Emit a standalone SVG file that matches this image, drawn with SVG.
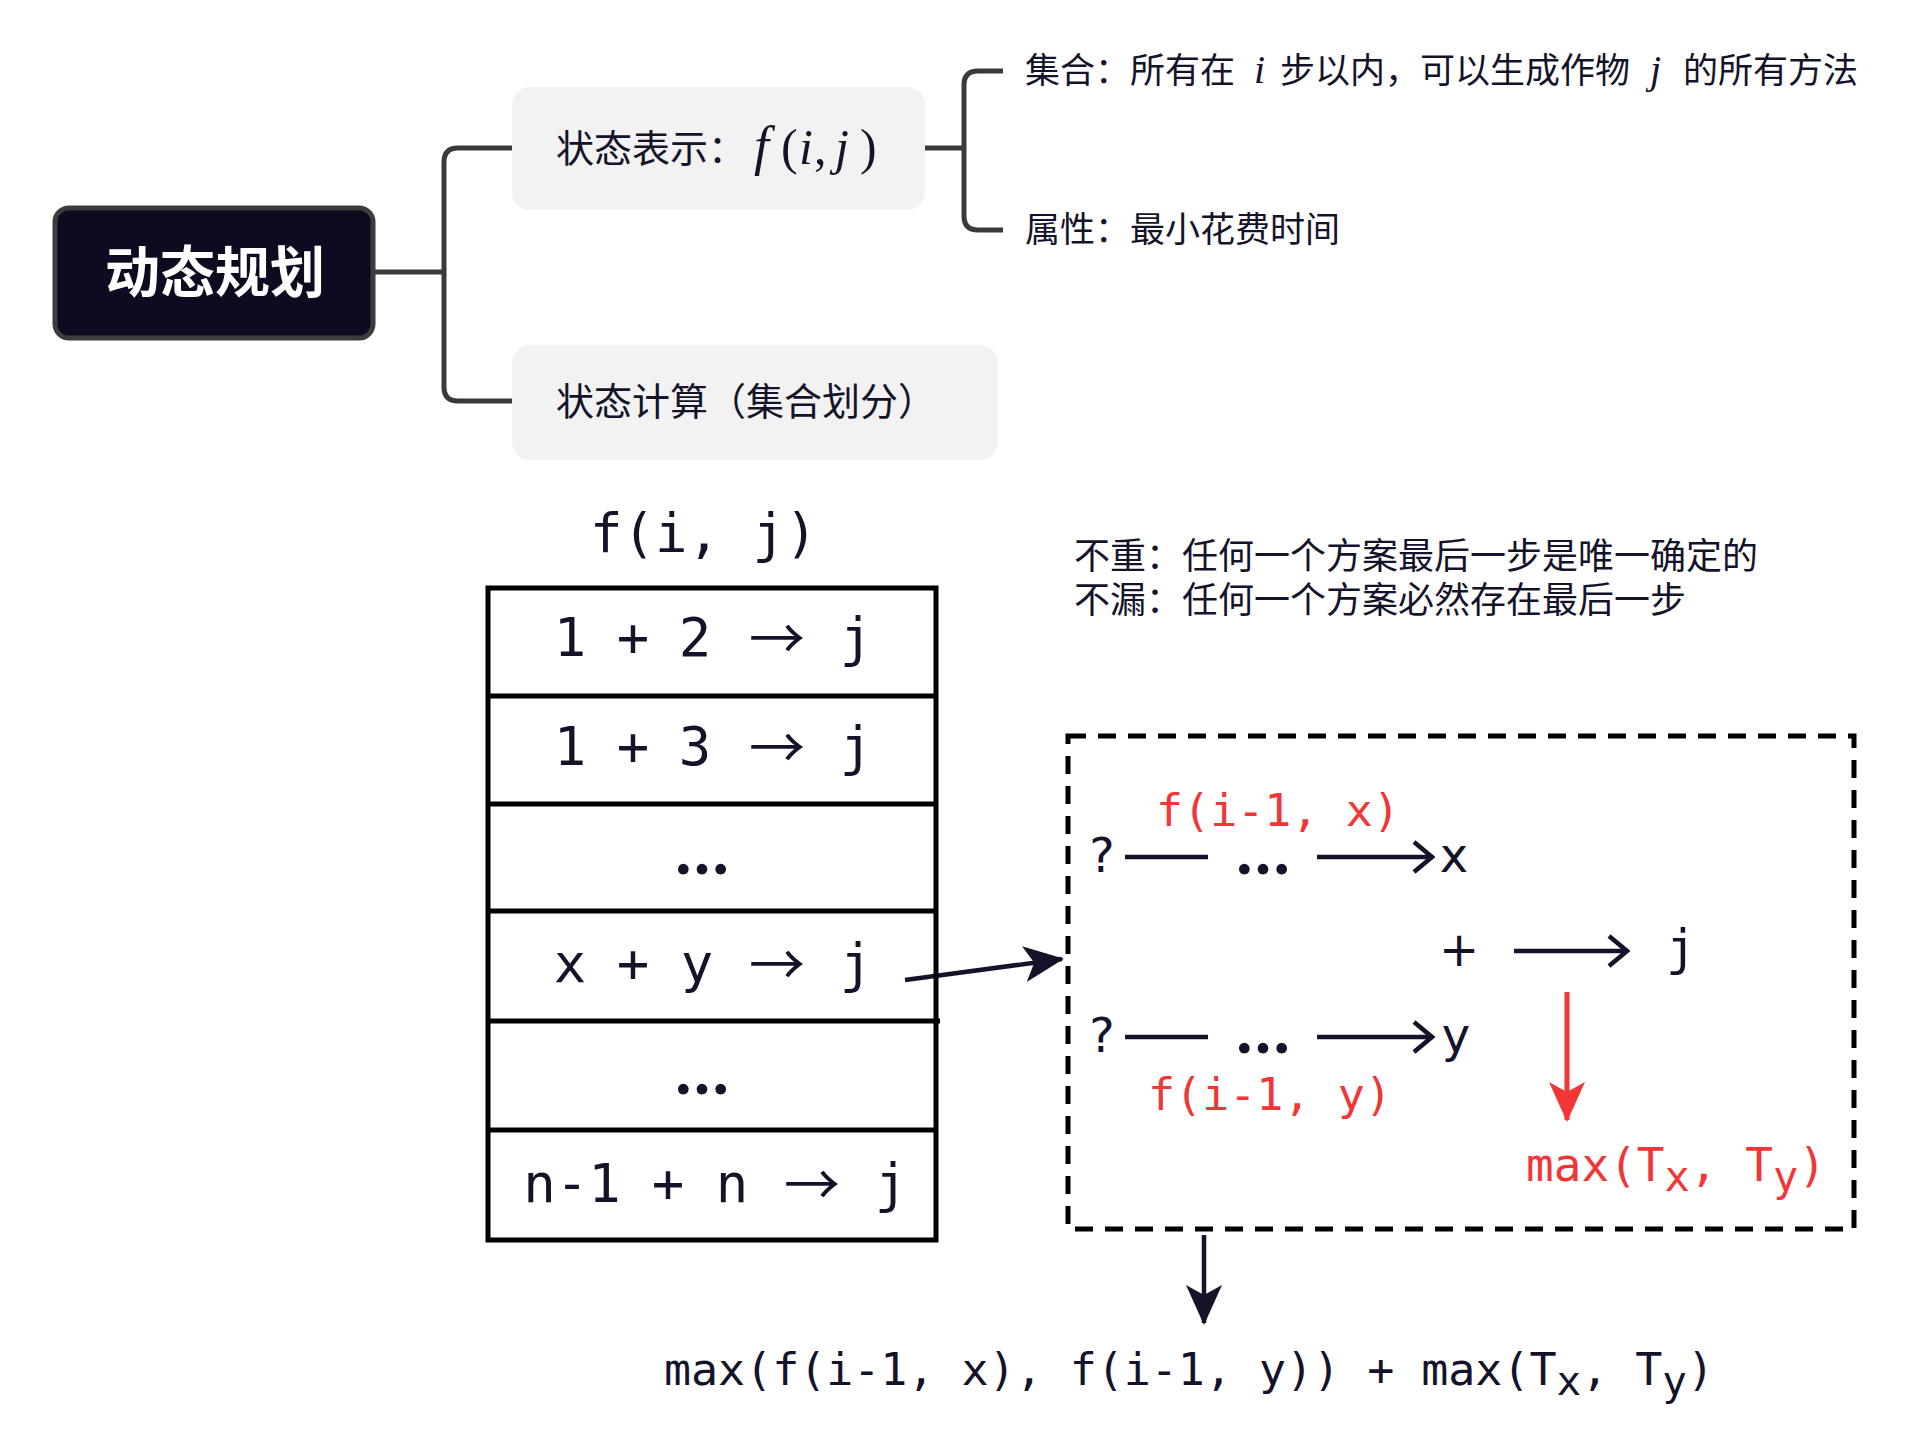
<svg xmlns="http://www.w3.org/2000/svg" width="1924" height="1450" viewBox="0 0 1924 1450">
<defs>
<style>
.cjk{font-family:"Noto Sans CJK SC","Noto Sans",sans-serif;fill:#15132a}
.mono{font-family:"DejaVu Sans Mono","Liberation Mono",monospace;fill:#15132a}
.red{fill:#f23535}
.math{font-family:"Liberation Serif","DejaVu Serif",serif;fill:#15132a}
.it{font-style:italic}
.sym{font-family:"DejaVu Sans","Liberation Sans",sans-serif;fill:#15132a}
.arr{font-family:"Noto Sans CJK SC","DejaVu Sans",sans-serif;fill:#15132a;font-size:56px;text-anchor:middle}
.dots{font-family:Lato,"DejaVu Sans",sans-serif;fill:#15132a;font-size:70px;font-weight:bold;text-anchor:middle}
.tbl{font-size:54px;text-anchor:middle}
.conn{fill:none;stroke:#3a3a3a;stroke-width:5;stroke-linecap:butt}
.line{fill:none;stroke:#15132a;stroke-width:4.5}
.grid{fill:none;stroke:#000;stroke-width:5}
</style>
<marker id="stealth" viewBox="0 0 40 36" refX="38" refY="18" markerWidth="40" markerHeight="36" markerUnits="userSpaceOnUse" orient="auto">
<path d="M0,0 L40,18 L0,36 L10,18 z" fill="#15132a"/>
</marker>
<marker id="stealthRed" viewBox="0 0 40 36" refX="38" refY="18" markerWidth="40" markerHeight="40" markerUnits="userSpaceOnUse" orient="auto">
<path d="M0,0 L40,18 L0,36 L10,18 z" fill="#f23535"/>
</marker>
<marker id="chev" viewBox="0 0 24 34" refX="21" refY="17" markerWidth="24" markerHeight="34" markerUnits="userSpaceOnUse" orient="auto">
<path d="M3,2 L21,17 L3,32" fill="none" stroke="#15132a" stroke-width="4.5"/>
</marker>
</defs>
<rect width="1924" height="1450" fill="#ffffff"/>

<g id="connectors">
<path class="conn" d="M375,272 H444"/>
<path class="conn" d="M512,148 H458 Q444,148 444,162 V387 Q444,401 458,401 H512"/>
<path class="conn" d="M925,148 H964"/>
<path class="conn" d="M1003,71 H978 Q964,71 964,85 V216 Q964,230 978,230 H1003"/>
<path class="line" d="M905,980 L1062,959" stroke-width="5" marker-end="url(#stealth)"/>
<path class="line" d="M1204,1235 V1323" stroke-width="5" marker-end="url(#stealth)"/>
<path d="M1567,992 V1120" fill="none" stroke="#f23535" stroke-width="5" marker-end="url(#stealthRed)"/>
</g>

<g id="root">
<rect x="55" y="208" width="318" height="130" rx="14" fill="#0d0b20" stroke="#3c3c3c" stroke-width="5"/>
<text x="215" y="292" class="cjk" font-size="55" font-weight="bold" text-anchor="middle" style="fill:#ffffff">动态规划</text>
</g>

<g id="node-state-repr">
<rect x="512" y="87" width="413" height="123" rx="18" fill="#f2f2f2"/>
<text x="556" y="162" class="cjk" font-size="38">状态表示：</text>
<text y="164" class="math" font-size="50"><tspan x="754" class="it" font-size="54">f</tspan><tspan x="781">(</tspan><tspan x="799" class="it">i</tspan><tspan x="814">,</tspan><tspan x="835" class="it">j</tspan><tspan x="860">)</tspan></text>
</g>

<g id="node-state-calc">
<rect x="512" y="345" width="486" height="115" rx="18" fill="#f2f2f2"/>
<text x="556" y="415" class="cjk" font-size="38">状态计算（集合划分）</text>
</g>

<g id="leaf-set">
<text y="83" class="cjk" font-size="35"><tspan x="1025">集合：所有在</tspan><tspan x="1254" class="math it" font-size="40">i</tspan><tspan x="1280">步以内，可以生成作物</tspan><tspan x="1650" class="math it" font-size="40">j</tspan><tspan x="1683">的所有方法</tspan></text>
</g>

<g id="leaf-attr">
<text x="1025" y="242" class="cjk" font-size="35">属性：最小花费时间</text>
</g>

<g id="notes">
<text x="1074" y="569" class="cjk" font-size="36">不重：任何一个方案最后一步是唯一确定的</text>
<text x="1074" y="613" class="cjk" font-size="36">不漏：任何一个方案必然存在最后一步</text>
</g>

<g id="table">
<text x="590" y="552" class="mono" font-size="54">f(i, j)</text>
<rect x="488" y="588" width="448" height="652" class="grid"/>
<path class="grid" d="M488,696 H936 M488,804 H936 M488,911 H936 M490,1021 H940 M488,1130 H936"/>
<text y="656" class="mono tbl"><tspan x="570">1</tspan><tspan x="633">+</tspan><tspan x="695">2</tspan><tspan x="856">j</tspan></text>
<text x="777" y="659" class="arr">→</text>
<text y="765" class="mono tbl"><tspan x="570">1</tspan><tspan x="633">+</tspan><tspan x="695">3</tspan><tspan x="856">j</tspan></text>
<text x="777" y="768" class="arr">→</text>
<text x="702" y="874" class="dots">…</text>
<text y="982" class="mono tbl"><tspan x="570">x</tspan><tspan x="633">+</tspan><tspan x="697">y</tspan><tspan x="856">j</tspan></text>
<text x="777" y="985" class="arr">→</text>
<text x="702" y="1094" class="dots">…</text>
<text y="1202" class="mono tbl"><tspan x="572">n-1</tspan><tspan x="668">+</tspan><tspan x="732">n</tspan><tspan x="891">j</tspan></text>
<text x="812" y="1205" class="arr">→</text>
</g>

<g id="split-box">
<rect x="1068" y="736" width="786" height="493" fill="none" stroke="#000" stroke-width="5" stroke-dasharray="18 12"/>
<text x="1156" y="826" class="mono red" font-size="45">f(i-1, x)</text>
<text x="1102" y="872" class="sym" font-size="48" text-anchor="middle">?</text>
<path class="line" d="M1125,857 H1208"/>
<text x="1263" y="874" class="dots">…</text>
<path class="line" d="M1317,857 H1432" marker-end="url(#chev)"/>
<text x="1454" y="872" class="sym" font-size="48" text-anchor="middle">x</text>
<text x="1459" y="966" class="sym" font-size="48" text-anchor="middle">+</text>
<path class="line" d="M1514,951 H1627" marker-end="url(#chev)"/>
<text x="1681" y="965" class="mono" font-size="50" text-anchor="middle">j</text>
<text x="1102" y="1052" class="sym" font-size="48" text-anchor="middle">?</text>
<path class="line" d="M1125,1037 H1208"/>
<text x="1263" y="1053" class="dots">…</text>
<path class="line" d="M1317,1037 H1432" marker-end="url(#chev)"/>
<text x="1456" y="1052" class="sym" font-size="48" text-anchor="middle">y</text>
<text x="1148" y="1110" class="mono red" font-size="45">f(i-1, y)</text>
<text x="1526" y="1181" class="mono red" font-size="46" textLength="300" lengthAdjust="spacing">max(T<tspan font-size="42" dy="10">x</tspan><tspan dy="-10">, T</tspan><tspan font-size="42" dy="10">y</tspan><tspan dy="-10">)</tspan></text>
</g>

<g id="formula">
<text x="664" y="1385" class="mono" font-size="45" textLength="1050" lengthAdjust="spacing">max(f(i-1, x), f(i-1, y)) + max(T<tspan font-size="41" dy="10">x</tspan><tspan dy="-10">, T</tspan><tspan font-size="41" dy="10">y</tspan><tspan dy="-10">)</tspan></text>
</g>
</svg>
